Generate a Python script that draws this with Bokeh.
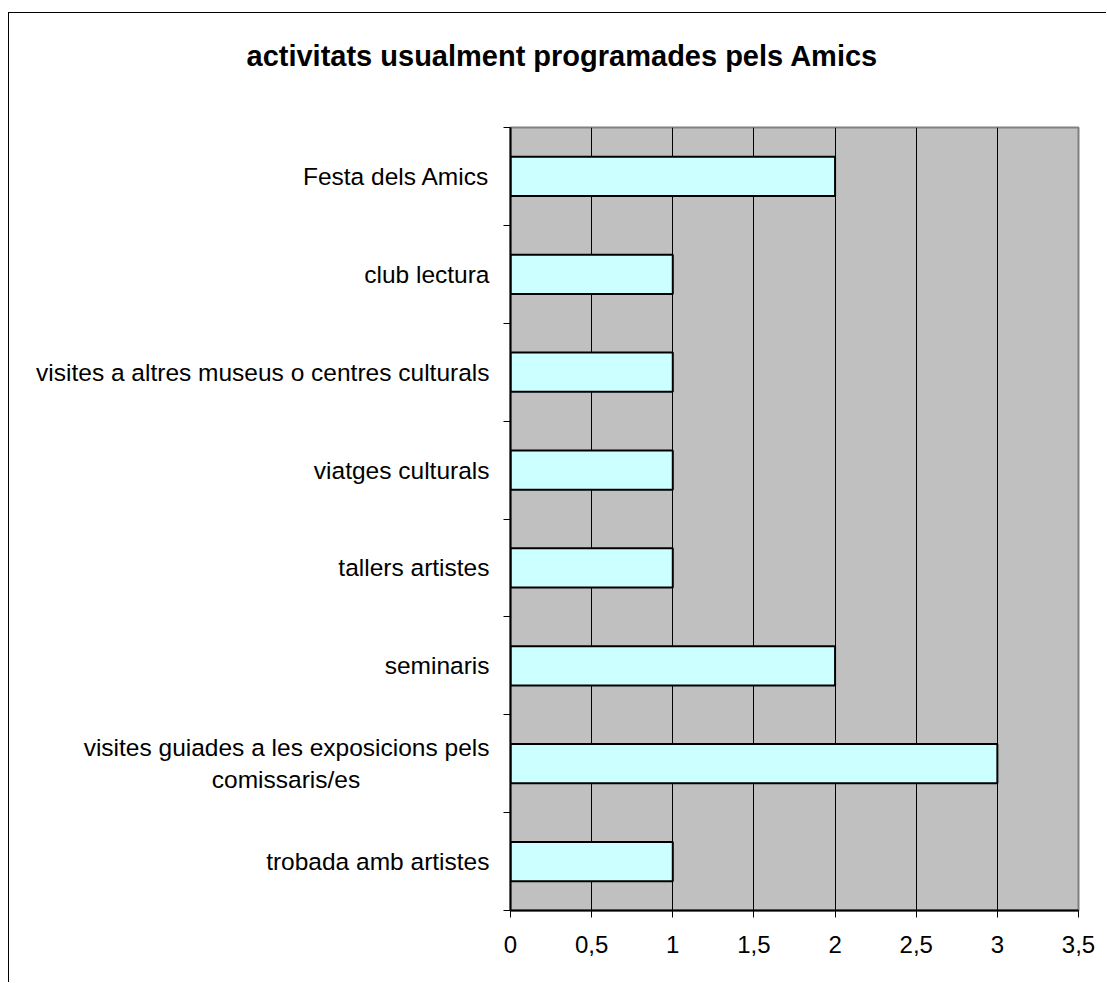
from bokeh.plotting import figure
from bokeh.models import (FixedTicker, Range1d, CustomJSTickFormatter, Title,
                          ColumnDataSource)
from bokeh.embed import file_html
from bokeh.resources import INLINE

title_text = "activitats usualment programades pels Amics"
categories = [
    "trobada amb artistes",
    "visites guiades a les exposicions pels\ncomissaris/es",
    "seminaris",
    "tallers artistes",
    "viatges culturals",
    "visites a altres museus o centres culturals",
    "club lectura",
    "Festa dels Amics",
]
values = [1, 3, 2, 1, 1, 1, 1, 2]
x_ticks = [0, 0.5, 1, 1.5, 2, 2.5, 3, 3.5]

n = len(categories)
centers = [i + 0.5 for i in range(n)]
bounds = list(range(n + 1))


def display_label(s):
    # centre the second line of a wrapped label under the first one
    if "\n" in s:
        a, b = s.split("\n")
        return a + "\n" + b + "\u00a0" * 19
    return s


p = figure(width=1098, height=970, output_backend="svg", toolbar_location=None,
           x_range=Range1d(0, 3.5), y_range=Range1d(0, n),
           min_border_left=501, min_border_right=29, min_border_top=111,
           min_border_bottom=73, title=None)
p.styles = {"margin-left": "8px", "margin-top": "12px",
            "border-left": "1px solid black", "border-top": "1px solid black"}
p.background_fill_color = "#C0C0C0"
p.border_fill_color = "white"
p.outline_line_color = "#808080"
p.outline_line_width = 2

src = ColumnDataSource(dict(y=centers, v=values))
p.hbar(y="y", right="v", left=0, height=0.4, source=src,
       fill_color="#CCFFFF", line_color="black", line_width=2)

p.xgrid.grid_line_color = "black"
p.xgrid.grid_line_width = 1
p.ygrid.grid_line_color = None

p.xaxis.ticker = FixedTicker(ticks=x_ticks)
p.xaxis.formatter = CustomJSTickFormatter(code="return tick.toString().replace('.', ',');")
p.xaxis.axis_line_color = "black"
p.xaxis.axis_line_width = 2
p.xaxis.major_tick_line_color = "black"
p.xaxis.major_tick_out = 7
p.xaxis.major_tick_in = 0
p.xaxis.minor_tick_line_color = None
p.xaxis.major_label_text_font = "Liberation Sans"
p.xaxis.major_label_text_font_size = "24px"
p.xaxis.major_label_text_color = "black"
p.xaxis.major_label_standoff = 18

p.yaxis.ticker = FixedTicker(ticks=centers, minor_ticks=bounds)
p.yaxis.major_label_overrides = {c: display_label(lab) for c, lab in zip(centers, categories)}
p.yaxis.axis_line_color = "black"
p.yaxis.axis_line_width = 2
p.yaxis.major_tick_line_color = None
p.yaxis.major_tick_out = 0
p.yaxis.major_tick_in = 0
p.yaxis.minor_tick_line_color = "black"
p.yaxis.minor_tick_out = 7
p.yaxis.minor_tick_in = 0
p.yaxis.major_label_text_font = "Liberation Sans"
p.yaxis.major_label_text_font_size = "24.5px"
p.yaxis.major_label_text_color = "black"
p.yaxis.major_label_standoff = 14

# blank spacer panel between the frame and the title (closest to the frame)
spacer = Title(text="\u00a0", standoff=25, text_font_size="1px", text_color="white")
p.add_layout(spacer, "above")

t = Title(text=title_text, align="left", offset=-264, standoff=52,
          text_font="Liberation Sans", text_font_style="bold",
          text_font_size="29px", text_color="black", vertical_align="top")
p.add_layout(t, "above")

open("out.html", "w").write(file_html(p, INLINE))
